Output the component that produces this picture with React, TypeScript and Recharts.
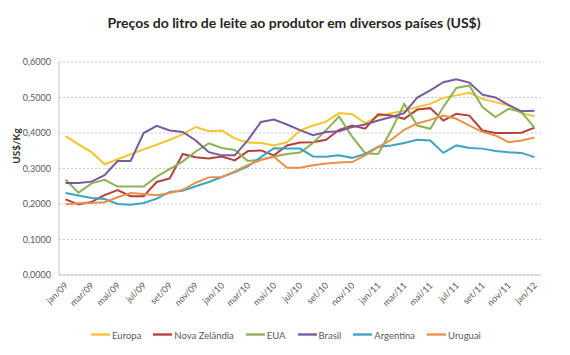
import {
  LineChart,
  Line,
  XAxis,
  YAxis,
  CartesianGrid,
  Legend,
} from "recharts";

const months = [
  "jan/09", "fev/09", "mar/09", "abr/09", "mai/09", "jun/09", "jul/09", "ago/09", "set/09", "out/09", "nov/09", "dez/09",
  "jan/10", "fev/10", "mar/10", "abr/10", "mai/10", "jun/10", "jul/10", "ago/10", "set/10", "out/10", "nov/10", "dez/10",
  "jan/11", "fev/11", "mar/11", "abr/11", "mai/11", "jun/11", "jul/11", "ago/11", "set/11", "out/11", "nov/11", "dez/11",
  "jan/12",
];

const europa = [
  0.391, 0.368, 0.346, 0.312, 0.326, 0.34, 0.354, 0.367, 0.381, 0.396, 0.417, 0.405,
  0.407, 0.384, 0.373, 0.372, 0.365, 0.374, 0.407, 0.421, 0.432, 0.456, 0.453, 0.428,
  0.447, 0.456, 0.462, 0.473, 0.482, 0.499, 0.506, 0.513, 0.496, 0.487, 0.478, 0.456,
  0.447,
];

const novaZelandia = [
  0.213, 0.199, 0.206, 0.225, 0.239, 0.222, 0.222, 0.262, 0.272, 0.341, 0.332, 0.328,
  0.334, 0.323, 0.349, 0.351, 0.337, 0.365, 0.373, 0.374, 0.381, 0.409, 0.421, 0.412,
  0.453, 0.449, 0.44, 0.466, 0.47, 0.435, 0.454, 0.449, 0.407, 0.4, 0.4, 0.401,
  0.415,
];

const eua = [
  0.269, 0.232, 0.258, 0.268, 0.249, 0.249, 0.249, 0.277, 0.298, 0.32, 0.348, 0.371,
  0.358, 0.352, 0.321, 0.325, 0.334, 0.341, 0.345, 0.372, 0.408, 0.446, 0.39, 0.343,
  0.341, 0.407, 0.482, 0.421, 0.412, 0.473, 0.527, 0.534, 0.473, 0.445, 0.468, 0.459,
  0.415,
];

const brasil = [
  0.259, 0.259, 0.263, 0.281, 0.321, 0.321, 0.4, 0.42, 0.407, 0.403, 0.379, 0.346,
  0.337, 0.337, 0.38, 0.431, 0.438, 0.424, 0.408, 0.394, 0.403, 0.405, 0.417, 0.424,
  0.435, 0.445, 0.456, 0.5, 0.52, 0.543, 0.551, 0.542, 0.508, 0.5, 0.479, 0.461,
  0.463,
];

const argentina = [
  0.231, 0.224, 0.217, 0.214, 0.2, 0.198, 0.203, 0.215, 0.234, 0.237, 0.25, 0.262,
  0.276, 0.29, 0.306, 0.332, 0.357, 0.356, 0.356, 0.334, 0.333, 0.337, 0.33, 0.341,
  0.361, 0.365, 0.372, 0.381, 0.379, 0.344, 0.365, 0.358, 0.356, 0.349, 0.346, 0.344,
  0.332,
];

const uruguai = [
  0.199, 0.202, 0.203, 0.205, 0.219, 0.231, 0.228, 0.225, 0.231, 0.24, 0.26, 0.275,
  0.276, 0.292, 0.31, 0.324, 0.333, 0.302, 0.302, 0.309, 0.314, 0.317, 0.318, 0.337,
  0.36, 0.381, 0.409, 0.427, 0.437, 0.449, 0.44, 0.421, 0.403, 0.393, 0.374, 0.379,
  0.387,
];

const yTicks = [0, 0.1, 0.2, 0.3, 0.4, 0.5, 0.6];

const series = [
  { key: "europa", name: "Europa", color: "#F4C430", values: europa },
  { key: "novaZelandia", name: "Nova Zelândia", color: "#B5403D", values: novaZelandia },
  { key: "eua", name: "EUA", color: "#8DB255", values: eua },
  { key: "brasil", name: "Brasil", color: "#7A5A9E", values: brasil },
  { key: "argentina", name: "Argentina", color: "#3FA3C2", values: argentina },
  { key: "uruguai", name: "Uruguai", color: "#E8914A", values: uruguai },
];

const seriesOrder = series.map((s) => s.name);

const data = months.map((month, i) => {
  const row: Record<string, string | number> = { month };
  series.forEach((s) => {
    row[s.key] = s.values[i];
  });
  return row;
});

const FONT = "Lato, 'Open Sans', sans-serif";
const TEXT = "#595959";

const XTick = ({ x, y, payload }: any) => (
  <text
    x={x + 3}
    y={y + 3}
    transform={`rotate(-45 ${x + 3} ${y + 3})`}
    textAnchor="end"
    fontSize={9}
    fontFamily={FONT}
    fill={TEXT}
  >
    {payload.value}
  </text>
);

const fmt = (v: number) => v.toFixed(4).replace(".", ",");

export default function App() {
  return (
    <div
      style={{
        position: "absolute",
        left: 0,
        top: 0,
        width: 570,
        height: 355,
        background: "#fff",
        fontFamily: FONT,
      }}
    >
      <div
        style={{
          position: "absolute",
          left: 0,
          width: 588,
          top: 14,
          textAlign: "center",
          fontWeight: 700,
          fontSize: 14,
          color: "#262626",
        }}
      >
        Preços do litro de leite ao produtor em diversos países (US$)
      </div>
      <LineChart
        width={570}
        height={355}
        data={data}
        margin={{ top: 62, right: 29, left: 0, bottom: 0 }}
      >
        <CartesianGrid
          vertical={false}
          stroke="#c9c9c9"
          strokeDasharray="2 2"
        />
        <XAxis
          dataKey="month"
          interval={1}
          height={80}
          tickLine={false}
          axisLine={{ stroke: "#c6c6c6" }}
          padding={{ left: 6.5, right: 6.5 }}
          tick={<XTick />}
        />
        <YAxis
          width={59}
          domain={[0, 0.6]}
          ticks={yTicks}
          tickFormatter={fmt}
          tickLine={false}
          axisLine={{ stroke: "#c6c6c6" }}
          tick={{ fontSize: 9, fill: TEXT, fontFamily: FONT }}
          label={{
            content: () => (
              <text
                x={20}
                y={146}
                transform="rotate(-90 20 146)"
                textAnchor="middle"
                fontSize={10}
                fontWeight={700}
                fontFamily={FONT}
                fill="#333"
              >
                US$/Kg
              </text>
            ),
          }}
        />
        <Legend
          layout="horizontal"
          align="center"
          verticalAlign="middle"
          iconType="plainline"
          iconSize={19}
          itemSorter={(item: any) => seriesOrder.indexOf(item.value)}
          wrapperStyle={{ top: 323, left: 0, width: 584 }}
          formatter={(value) => (
            <span
              style={{
                fontSize: 9.5,
                color: TEXT,
                fontFamily: FONT,
                marginLeft: -2,
                marginRight: 2,
              }}
            >
              {value}
            </span>
          )}
        />
        {series.map((s) => (
          <Line
            key={s.key}
            type="linear"
            dataKey={s.key}
            name={s.name}
            stroke={s.color}
            strokeWidth={2}
            dot={false}
            isAnimationActive={false}
          />
        ))}
      </LineChart>
    </div>
  );
}
